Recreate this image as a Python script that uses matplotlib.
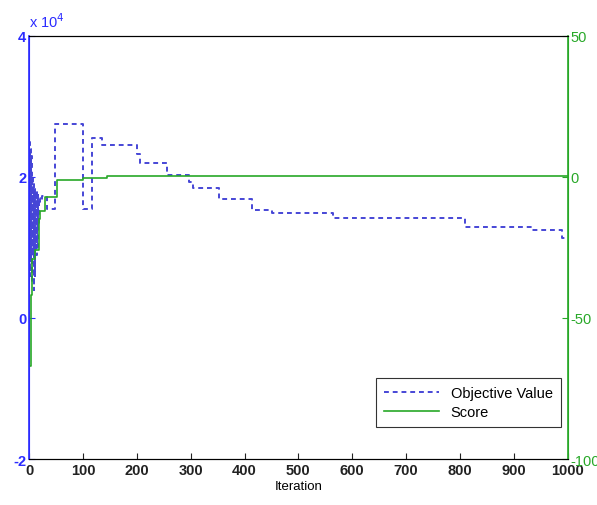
import numpy as np
import matplotlib
matplotlib.use('Agg')
import matplotlib.pyplot as plt
from matplotlib.ticker import FuncFormatter

plt.rcParams['font.family'] = ['Liberation Sans', 'DejaVu Sans']
plt.rcParams['axes.unicode_minus'] = False

# objective value (step changes)
obj_iter = [0, 1, 2, 3, 4, 5, 6, 7, 8, 9, 10, 11, 12, 13, 14, 15, 16, 17, 18, 20, 25, 33,
            48, 100, 117, 135, 200, 206, 256, 297, 305, 352, 414, 451, 564, 809, 933, 989, 1000]
obj_val = [25000, 6000, 24000, 8000, 23000, 5000, 20000, 9000, 19000, 4000, 18500, 6000,
           18000, 9000, 18000, 10000, 17500, 13000, 17000, 16500, 17300, 15500,
           27500, 15500, 25500, 24500, 23300, 22000, 20300, 19300, 18400, 16900, 15300,
           14900, 14200, 12900, 12500, 11300, 11300]

# score (right axis)
score_iter = [0, 3, 6, 12, 18, 21, 30, 52, 100, 145, 1000]
score_val = [-67, -42, -29, -26, -15, -12, -7, -1, -0.5, 0.2, 0.2]

xticks = np.arange(0, 1001, 100)
left_ticks = [-20000, 0, 20000, 40000]
right_ticks = [-100, -50, 0, 50]

blue = '#2b2bff'
green = '#28a828'

fig = plt.figure(figsize=(5.97, 5.06), dpi=100)
ax = fig.add_axes([0.0486, 0.0909, 0.9024, 0.836])
ax2 = ax.twinx()

l1, = ax.plot(obj_iter, obj_val, drawstyle='steps-post', color='#4646d6',
              linestyle=(0, (2.5, 2)), linewidth=1.4, label='Objective Value')
l2, = ax2.plot(score_iter, score_val, drawstyle='steps-post', color=green,
               linewidth=1.2, label='Score')

ax.set_xlim(0, 1000)
ax.set_ylim(-20000, 40000)
ax2.set_ylim(-100, 50)
ax.set_xticks(xticks)
ax.set_yticks(left_ticks)
ax2.set_yticks(right_ticks)
ax.yaxis.set_major_formatter(FuncFormatter(lambda v, p: '%d' % round(v / 1e4)))

ax.tick_params(axis='x', direction='in', length=4, labelsize=10.5, colors='#222222', pad=3)
for t in ax.get_xticklabels():
    t.set_fontweight('bold')
ax.tick_params(axis='y', direction='in', length=4, labelsize=10.5, colors=blue, pad=2)
for t in ax.get_yticklabels():
    t.set_fontweight('bold')
ax2.tick_params(axis='y', direction='in', length=4, labelsize=10.5, colors=green, pad=2)

ax2.spines['left'].set_color(blue)
ax2.spines['right'].set_color(green)
ax2.spines['left'].set_linewidth(1.2)
ax2.spines['right'].set_linewidth(1.2)
ax.spines['left'].set_color(blue)
ax.spines['right'].set_color(green)

ax.text(0.0, 1.015, r'x 10$^4$', transform=ax.transAxes, color=blue, fontsize=10.5,
        ha='left', va='bottom')
ax.set_xlabel('Iteration', fontsize=9.5, labelpad=2)

leg = ax2.legend([l1, l2], ['Objective Value', 'Score'], loc='lower right',
                 bbox_to_anchor=(0.987, 0.076), borderaxespad=0, fontsize=10.5,
                 frameon=True, fancybox=False, edgecolor='black', handlelength=3.8,
                 borderpad=0.55, labelspacing=0.35)
leg.get_frame().set_linewidth(0.8)

fig.savefig('out.png', dpi=100)
